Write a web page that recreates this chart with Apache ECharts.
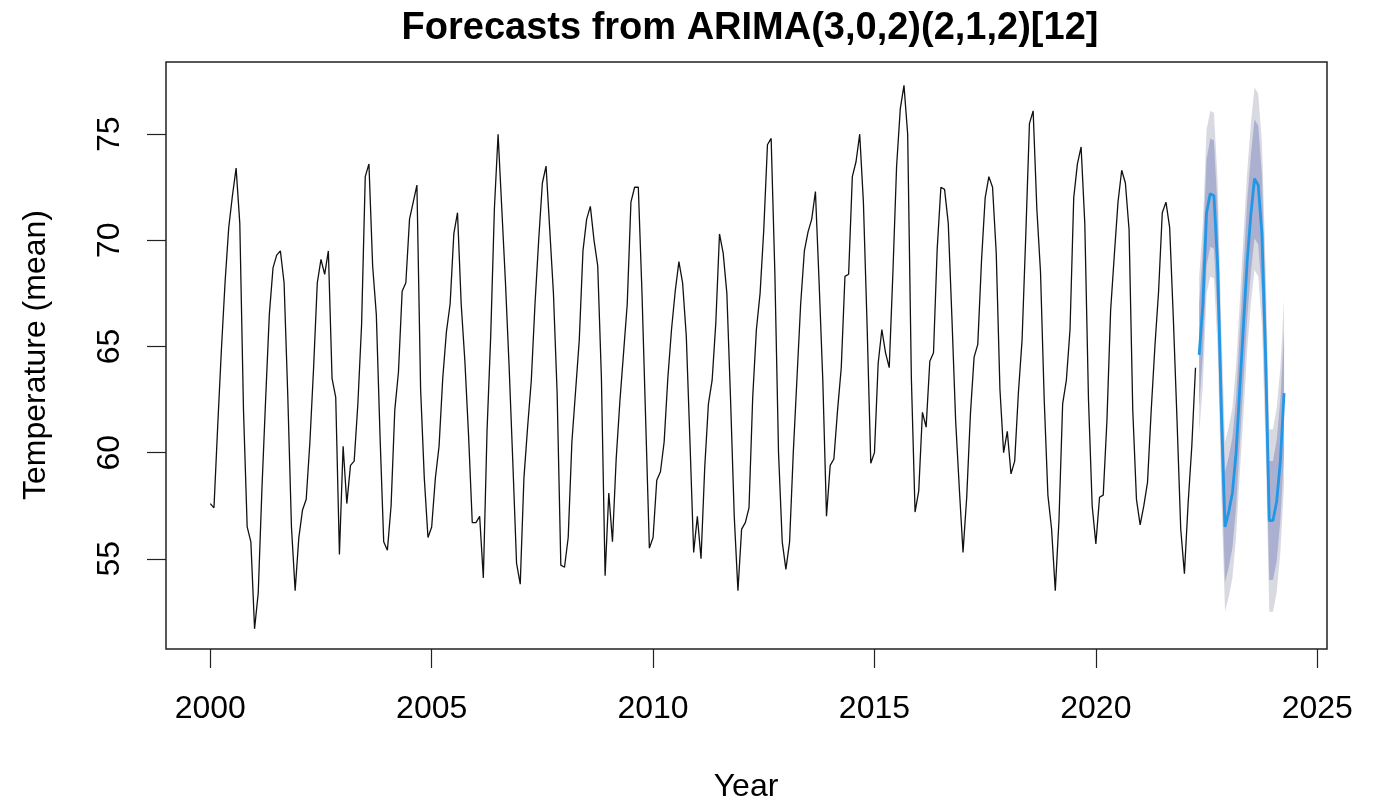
<!DOCTYPE html>
<html>
<head>
<meta charset="utf-8">
<title>Forecasts from ARIMA</title>
<script src="https://cdn.jsdelivr.net/npm/echarts@6/dist/echarts.min.js"></script>
<style>
  html, body { margin: 0; padding: 0; background: #fff; }
  #chart { width: 1374px; height: 800px; }
</style>
</head>
<body>
<div id="chart"></div>
<script>
// monthly mean temperature, Jan 2000 .. Apr 2022
var startYear = 2000;
var temps = [
  57.6, 57.4, 61.2, 64.8, 68.0, 70.6, 72.1, 73.4, 70.8, 62.0, 56.5, 55.8,
  51.7, 53.4, 58.3, 62.5, 66.5, 68.7, 69.3, 69.5, 68.0, 62.7, 56.5, 53.5,
  56.0, 57.3, 57.8, 60.5, 64.0, 68.0, 69.1, 68.4, 69.5, 63.5, 62.6, 55.2,
  60.3, 57.6, 59.4, 59.6, 62.3, 66.0, 73.0, 73.6, 68.8, 66.5, 60.8, 55.8,
  55.4, 57.5, 62.0, 63.8, 67.6, 68.0, 71.0, 71.8, 72.6, 63.0, 58.8, 56.0,
  56.5, 58.8, 60.3, 63.5, 65.7, 67.0, 70.3, 71.3, 67.0, 64.3, 60.8, 56.7,
  56.7, 57.0, 54.1, 61.0, 65.5, 71.5, 75.0, 71.5, 68.0, 64.0, 59.5, 54.8,
  53.8, 58.8, 61.2, 63.4, 67.0, 70.0, 72.7, 73.5, 70.5, 67.5, 62.8, 54.7,
  54.6, 56.0, 60.5, 62.9, 65.3, 69.5, 71.0, 71.6, 70.0, 68.8, 63.5, 54.2,
  58.1, 55.8, 59.7, 62.4, 64.7, 67.0, 71.8, 72.5, 72.5, 67.5, 61.5, 55.5,
  56.0, 58.7, 59.1, 60.5, 63.5, 65.8, 67.6, 69.0, 68.0, 65.5, 60.5, 55.3,
  57.0, 55.0, 59.3, 62.3, 63.4, 66.1, 70.3, 69.4, 67.5, 62.5, 57.0, 53.5,
  56.4, 56.7, 57.4, 62.6, 65.8, 67.5, 70.5, 74.5, 74.8, 68.5, 60.0, 55.8,
  54.5, 55.8, 60.0, 63.5, 67.0, 69.5, 70.4, 71.0, 72.3, 68.0, 63.4, 57.0,
  59.4, 59.7, 62.0, 64.0, 68.3, 68.4, 73.0, 73.7, 75.0, 71.8, 66.0, 59.5,
  60.0, 64.2, 65.8, 64.7, 64.0, 68.5, 73.5, 76.2, 77.3, 75.0, 63.5, 57.2,
  58.2, 61.9, 61.2, 64.3, 64.7, 69.6, 72.5, 72.4, 70.8, 66.3, 61.5, 58.3,
  55.3, 57.9, 61.8, 64.5, 65.1, 69.0, 72.0, 73.0, 72.5, 69.4, 63.0, 60.0,
  61.0, 59.0, 59.6, 62.8, 65.3, 70.2, 75.5, 76.1, 71.5, 68.5, 62.5, 58.0,
  56.4, 53.5, 56.8, 62.3, 63.4, 65.8, 72.0, 73.6, 74.4, 70.8, 62.5, 57.5,
  55.7, 57.9, 58.0, 61.5, 66.7, 69.3, 71.8, 73.3, 72.7, 70.5, 62.0, 57.8,
  56.6, 57.5, 58.6, 62.0, 65.0, 67.6, 71.3, 71.8, 70.6, 66.3, 61.5, 56.4,
  54.3, 57.6, 60.3, 64.0
];

// 24 month forecast, May 2022 .. Apr 2024
var fcMean = [
  64.6, 67.0, 71.3, 72.2, 72.1, 68.8, 62.0, 56.5, 57.2, 58.1, 60.0, 63.0,
  66.0, 69.0, 71.2, 72.9, 72.6, 70.3, 64.5, 56.8, 56.8, 57.7, 59.6, 62.8
];
var lo80 = [
  62.2, 64.6, 68.8, 69.7, 69.6, 66.3, 59.4, 53.9, 54.6, 55.5, 57.4, 60.4,
  63.3, 66.3, 68.5, 70.1, 69.8, 67.5, 61.7, 54.0, 54.0, 54.9, 56.8, 60.0
];
var hi80 = [
  67.0, 69.5, 73.8, 74.8, 74.7, 71.4, 64.6, 59.1, 59.8, 60.7, 62.6, 65.7,
  68.7, 71.8, 74.0, 75.7, 75.4, 73.1, 67.3, 59.6, 59.6, 60.6, 62.5, 65.7
];
var lo95 = [
  60.9, 63.2, 67.5, 68.3, 68.2, 64.9, 58.1, 52.5, 53.2, 54.1, 56.0, 59.0,
  61.8, 64.8, 67.0, 68.6, 68.3, 66.0, 60.2, 52.5, 52.5, 53.4, 55.3, 58.5
];
var hi95 = [
  68.3, 70.8, 75.2, 76.1, 76.0, 72.8, 66.0, 60.5, 61.2, 62.1, 64.1, 67.1,
  70.2, 73.2, 75.5, 77.2, 76.9, 74.6, 68.8, 61.1, 61.1, 62.1, 64.0, 67.2
];

var yearTicks = [2000, 2005, 2010, 2015, 2020, 2025];
var tempTicks = [55, 60, 65, 70, 75];

var font = "'Liberation Sans', Arial, sans-serif";

var obsData = temps.map(function (v, i) { return [startYear + i / 12, v]; });
var fcTime = fcMean.map(function (v, k) { return startYear + (temps.length + k) / 12; });
var fcData = fcMean.map(function (v, k) { return [fcTime[k], v]; });

function band(lo, hi, color) {
  return {
    type: 'custom',
    silent: true,
    clip: true,
    data: [[fcTime[0], lo[0]]],
    renderItem: function (params, api) {
      var pts = [];
      for (var k = 0; k < hi.length; k++) pts.push(api.coord([fcTime[k], hi[k]]));
      for (var j = lo.length - 1; j >= 0; j--) pts.push(api.coord([fcTime[j], lo[j]]));
      return { type: 'polygon', shape: { points: pts }, style: { fill: color } };
    }
  };
}

var chart = echarts.init(document.getElementById('chart'));
chart.setOption({
  animation: false,
  backgroundColor: '#fff',
  grid: {
    left: 166, right: 47, top: 62, bottom: 151,
    show: true, borderColor: '#222', borderWidth: 1.5, backgroundColor: 'transparent'
  },
  graphic: [
    {
      type: 'text', x: 750, y: 29,
      style: {
        text: 'Forecasts from ARIMA(3,0,2)(2,1,2)[12]', fill: '#000',
        font: 'bold 38px ' + font, textAlign: 'center', textVerticalAlign: 'middle'
      }
    },
    {
      type: 'text', x: 746, y: 787,
      style: {
        text: 'Year', fill: '#000', font: '32px ' + font,
        textAlign: 'center', textVerticalAlign: 'middle'
      }
    },
    {
      type: 'text', x: 36, y: 355, rotation: Math.PI / 2,
      style: {
        text: 'Temperature (mean)', fill: '#000', font: '32px ' + font,
        textAlign: 'center', textVerticalAlign: 'middle'
      }
    }
  ],
  xAxis: {
    type: 'value',
    min: 1999.0,
    max: 2025.22,
    splitLine: { show: false },
    axisLine: { show: false },
    axisTick: {
      show: true, length: 19, customValues: yearTicks,
      lineStyle: { color: '#222', width: 1.2 }
    },
    axisLabel: {
      customValues: yearTicks, margin: 44,
      color: '#000', fontSize: 32, fontFamily: font,
      formatter: function (v) { return String(v); }
    }
  },
  yAxis: {
    type: 'value',
    min: 50.75,
    max: 78.4,
    splitLine: { show: false },
    axisLine: { show: false },
    axisTick: {
      show: true, length: 19, customValues: tempTicks,
      lineStyle: { color: '#222', width: 1.2 }
    },
    axisLabel: {
      customValues: tempTicks, margin: 40, rotate: 90,
      color: '#000', fontSize: 32, fontFamily: font
    }
  },
  series: [
    band(lo95, hi95, '#D9D9E2'),
    band(lo80, hi80, '#ABB0D0'),
    {
      name: 'observed',
      type: 'line',
      data: obsData,
      symbol: 'none',
      silent: true,
      lineStyle: { color: '#111', width: 1.3 }
    },
    {
      name: 'forecast',
      type: 'line',
      data: fcData,
      symbol: 'none',
      silent: true,
      lineStyle: { color: '#2297E6', width: 2.8 }
    }
  ]
});
</script>
</body>
</html>
